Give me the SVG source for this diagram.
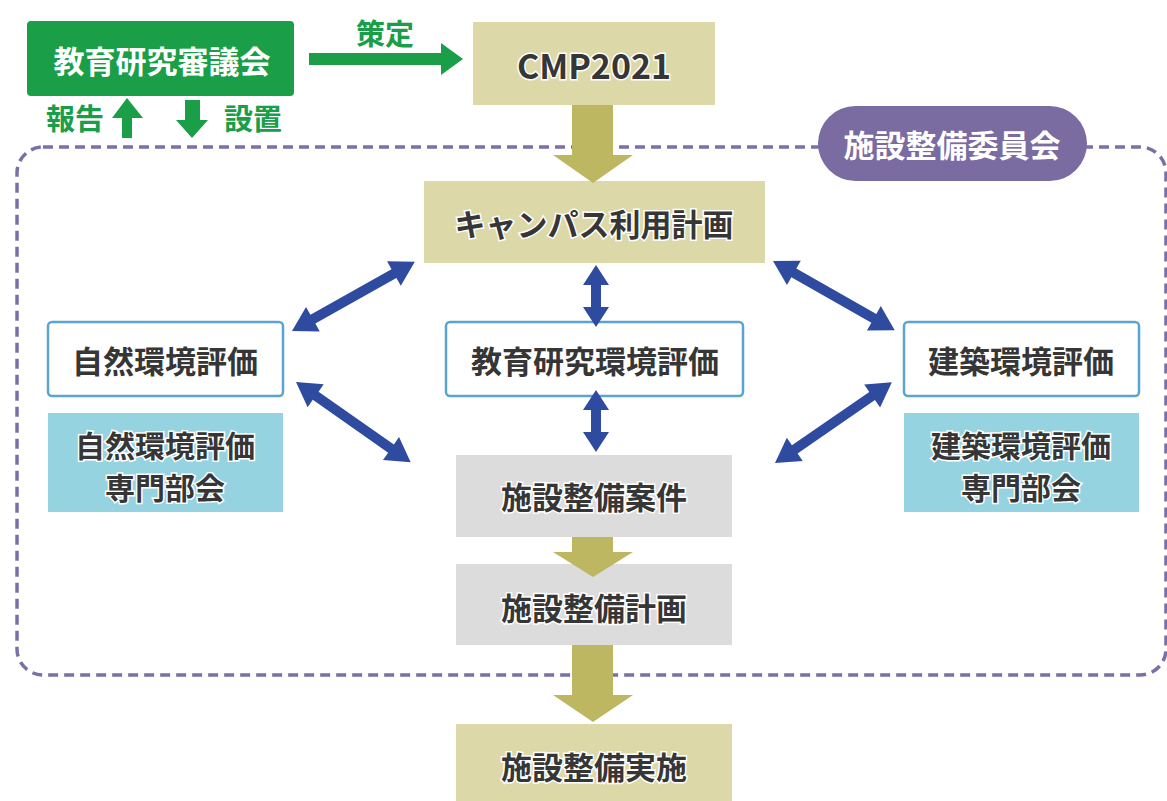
<svg xmlns="http://www.w3.org/2000/svg" width="1167" height="801" viewBox="0 0 1167 801">
<style>
.t{font-family:"Noto Sans CJK JP","Noto Sans",sans-serif;font-weight:700;text-anchor:middle;dominant-baseline:central}
.dk{fill:#363636;stroke:#fff;stroke-width:3;paint-order:stroke;font-size:31px}
.sm{font-size:30px}
.wh{fill:#fff;font-size:31px}
.gr{fill:#1a9e48;font-size:29px}
.kh{fill:#dcd8a8}
.gy{fill:#dcdcdd}
.bl{fill:#95d3e0}
.wb{fill:#fff;stroke:#5aa5cf;stroke-width:2.5}
.ka{fill:#bdb762}
.ba{fill:#2f4ba0}
.ga{fill:#1a9e48}
</style>
<rect width="1167" height="801" fill="#fff"/>
<g id="committee-area">
<rect x="17" y="147" width="1149" height="528" rx="26" fill="none" stroke="#7b6fa8" stroke-width="3.5" stroke-dasharray="10 6"/>
</g>
<g id="n-council">
<rect x="27" y="21" width="267" height="75" rx="4" fill="#1a9e48"/>
<text class="t wh" x="162" y="59">教育研究審議会</text>
</g>
<g id="n-cmp">
<rect class="kh" x="473" y="22" width="242" height="83"/>
<text class="t dk" x="594" y="64" style="font-size:34px">CMP2021</text>
</g>
<g id="n-facility-committee">
<rect x="818" y="106" width="269" height="75" rx="37.5" fill="#7a6ba0"/>
<text class="t wh" x="952" y="143">施設整備委員会</text>
</g>
<g id="n-campus-plan">
<rect class="kh" x="424" y="181" width="341" height="82"/>
<text class="t dk" x="594" y="222">キャンパス利用計画</text>
</g>
<g id="n-nature-eval">
<rect class="wb" x="48" y="322" width="235" height="74" rx="4"/>
<text class="t dk" x="165" y="359">自然環境評価</text>
</g>
<g id="n-nature-sub">
<rect class="bl" x="48" y="413" width="235" height="99"/>
<text class="t dk sm" x="165" y="444">自然環境評価</text>
<text class="t dk sm" x="165" y="486">専門部会</text>
</g>
<g id="n-edu-eval">
<rect class="wb" x="446" y="322" width="297" height="74" rx="4"/>
<text class="t dk" x="595" y="359">教育研究環境評価</text>
</g>
<g id="n-arch-eval">
<rect class="wb" x="904" y="322" width="235" height="74" rx="4"/>
<text class="t dk" x="1021" y="359">建築環境評価</text>
</g>
<g id="n-arch-sub">
<rect class="bl" x="904" y="413" width="235" height="99"/>
<text class="t dk sm" x="1021" y="444">建築環境評価</text>
<text class="t dk sm" x="1021" y="486">専門部会</text>
</g>
<g id="n-project">
<rect class="gy" x="456" y="455" width="276" height="82"/>
<text class="t dk" x="594" y="495">施設整備案件</text>
</g>
<g id="n-plan">
<rect class="gy" x="456" y="564" width="276" height="81"/>
<text class="t dk" x="594" y="606">施設整備計画</text>
</g>
<g id="n-exec">
<rect class="kh" x="456" y="724" width="276" height="80"/>
<text class="t dk" x="594" y="765">施設整備実施</text>
</g>
<g id="connectors">
<polygon class="ga" points="309,53 441,53 441,43 463,59 441,75 441,65 309,65"/>
<text class="t gr" x="385" y="32">策定</text>
<polygon class="ga" points="122,138 122,118 112,118 127,98 143,118 132,118 132,138"/>
<text class="t gr" x="75" y="117">報告</text>
<polygon class="ga" points="185,100 200,100 200,120 208,120 192,138 176,120 185,120"/>
<text class="t gr" x="253" y="117">設置</text>
<polygon class="ka" points="572,105 613,105 613,155 633,155 593,183 553,155 572,155"/>
<polygon class="ka" points="572,537 613,537 613,552 633,552 593,577 553,552 572,552"/>
<polygon class="ka" points="572,645 613,645 613,695 633,695 593,722 553,695 572,695"/>
<g class="ba">
<polygon transform="translate(292,331) rotate(-29.4)" points="0,0 24,-14 24,-5 117,-5 117,-14 141,0 117,14 117,5 24,5 24,14"/>
<polygon transform="translate(296,382) rotate(35)" points="0,0 24,-14 24,-5 116,-5 116,-14 140,0 116,14 116,5 24,5 24,14"/>
<polygon transform="translate(773,261) rotate(29.6)" points="0,0 24,-14 24,-5 116,-5 116,-14 140,0 116,14 116,5 24,5 24,14"/>
<polygon transform="translate(775,463) rotate(-34.6)" points="0,0 24,-14 24,-5 118,-5 118,-14 142,0 118,14 118,5 24,5 24,14"/>
<polygon transform="translate(596,265) rotate(90)" points="0,0 20,-13 20,-5 42,-5 42,-13 62,0 42,13 42,5 20,5 20,13"/>
<polygon transform="translate(596,390) rotate(90)" points="0,0 20,-13 20,-5 42,-5 42,-13 62,0 42,13 42,5 20,5 20,13"/>
</g>
</g>
</svg>
